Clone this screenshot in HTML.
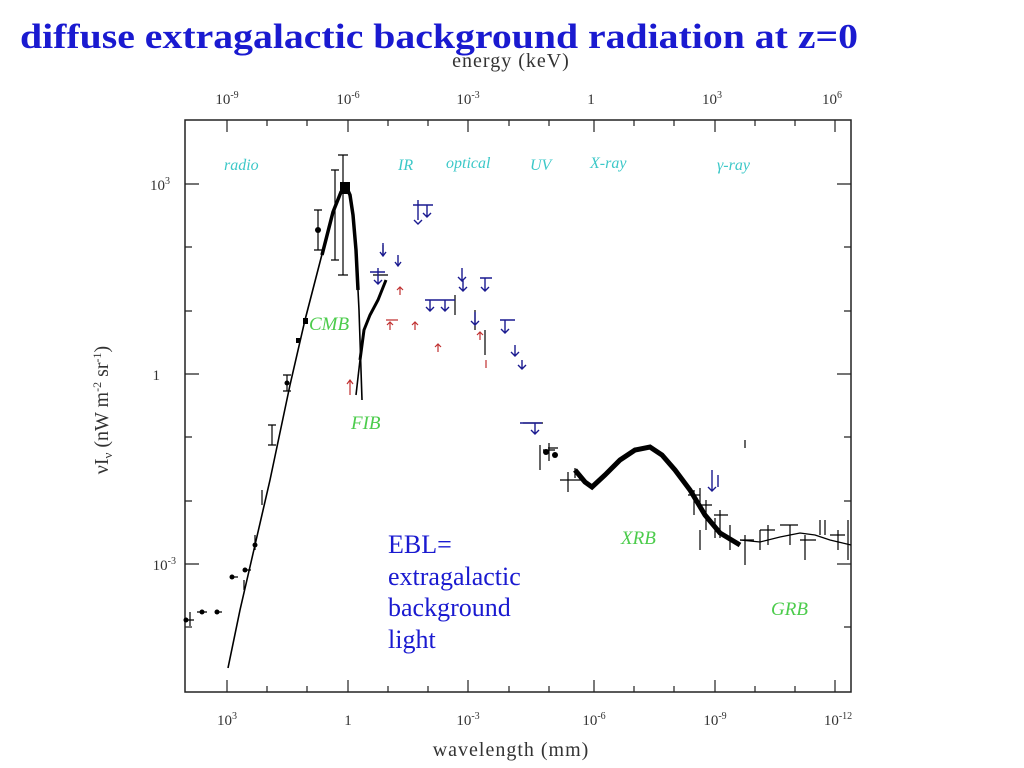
<!DOCTYPE html>
<html><head><meta charset="utf-8"><style>
html,body{margin:0;padding:0;background:#fff;width:1024px;height:768px;overflow:hidden}
svg{display:block}
.t{font-family:"Liberation Serif",serif}
</style></head><body>
<svg width="1024" height="768" viewBox="0 0 1024 768" xmlns="http://www.w3.org/2000/svg">
<text class="t" x="20" y="48" font-size="35" font-weight="bold" fill="#1a1ad0" textLength="838" lengthAdjust="spacingAndGlyphs">diffuse extragalactic background radiation at z=0</text>
<text class="t" x="511" y="67" font-size="20" fill="#333" text-anchor="middle" letter-spacing="1">energy (keV)</text>
<g class="t" font-size="15" fill="#333" text-anchor="middle">
<text x="227" y="104">10<tspan dy="-6" font-size="10">-9</tspan></text>
<text x="348" y="104">10<tspan dy="-6" font-size="10">-6</tspan></text>
<text x="468" y="104">10<tspan dy="-6" font-size="10">-3</tspan></text>
<text x="591" y="104">1</text>
<text x="712" y="104">10<tspan dy="-6" font-size="10">3</tspan></text>
<text x="832" y="104">10<tspan dy="-6" font-size="10">6</tspan></text>
<text x="227" y="725">10<tspan dy="-6" font-size="10">3</tspan></text>
<text x="348" y="725">1</text>
<text x="468" y="725">10<tspan dy="-6" font-size="10">-3</tspan></text>
<text x="594" y="725">10<tspan dy="-6" font-size="10">-6</tspan></text>
<text x="715" y="725">10<tspan dy="-6" font-size="10">-9</tspan></text>
<text x="838" y="725">10<tspan dy="-6" font-size="10">-12</tspan></text>
</g>
<g class="t" font-size="15" fill="#333" text-anchor="end">
<text x="170" y="190">10<tspan dy="-6" font-size="10">3</tspan></text>
<text x="160" y="380">1</text>
<text x="176" y="570">10<tspan dy="-6" font-size="10">-3</tspan></text>
</g>
<text class="t" x="511" y="756" font-size="20" fill="#333" text-anchor="middle" letter-spacing="1">wavelength (mm)</text>
<text class="t" transform="translate(108,410) rotate(-90)" font-size="20" fill="#333" text-anchor="middle">νI<tspan font-size="13" dy="4">ν</tspan><tspan dy="-4"> (nW m</tspan><tspan font-size="12" dy="-7">-2</tspan><tspan dy="7"> sr</tspan><tspan font-size="12" dy="-7">-1</tspan><tspan dy="7">)</tspan></text>
<rect x="185" y="120" width="666" height="572" fill="none" stroke="#222" stroke-width="1.5"/>
<g stroke="#222" stroke-width="1.2">
<path d="M227 120v12M348 120v12M468 120v12M594 120v12M715 120v12M835 120v12M227 692v-12M348 692v-12M468 692v-12M594 692v-12M715 692v-12M835 692v-12"/>
<path d="M267 120v6M307 120v6M388 120v6M428 120v6M509 120v6M549 120v6M634 120v6M674 120v6M755 120v6M795 120v6M267 692v-6M307 692v-6M388 692v-6M428 692v-6M509 692v-6M549 692v-6M634 692v-6M674 692v-6M755 692v-6M795 692v-6"/>
<path d="M185 184h14M185 374h14M185 564h14M851 184h-14M851 374h-14M851 564h-14"/>
<path d="M185 247h7M185 311h7M185 437h7M185 501h7M185 627h7M851 247h-7M851 311h-7M851 437h-7M851 501h-7M851 627h-7"/>
</g>
<g font-family="Liberation Serif,serif" font-style="italic" font-size="16" fill="#3cc8c8">
<text x="224" y="170">radio</text><text x="398" y="170">IR</text><text x="446" y="168">optical</text><text x="530" y="170">UV</text><text x="590" y="168">X-ray</text><text x="717" y="170">γ-ray</text>
</g>
<g font-family="Liberation Serif,serif" font-style="italic" font-size="19" fill="#4ccc4c">
<text x="309" y="330">CMB</text><text x="351" y="429">FIB</text><text x="621" y="544">XRB</text><text x="771" y="615">GRB</text>
</g>
<g fill="none" stroke="#000" stroke-width="1.6">
<polyline points="228,668 240,610 255,545 270,480 290,385 305,320 320,262 333,212 341,192 346,186 350,195 353,215 356,250 359,310 361,370 362,400"/>
<polyline stroke-width="3.5" points="322,255 333,212 341,192 346,186 350,195 353,215 356,250 358,290"/>
<polyline stroke-width="3" points="360,360 364,330 370,315 378,300 386,280"/>
<polyline points="356,395 360,360"/>
<polyline stroke-width="5" points="575,470 585,482 592,487 605,475 620,460 635,450 650,447 662,455 675,470 690,490 705,515 720,533 740,545"/>
<polyline stroke-width="1.3" points="740,540 760,542 780,537 800,533 815,535 830,540 851,545"/>
</g>
<g stroke="#000" stroke-width="1.2" fill="none">
<path d="M343 155v120M338 155h10M338 275h10M335 170v90M331 170h8M331 260h8M318 210v40M314 210h8M314 250h8M287 375v16M283 375h8M283 391h8M272 425v20M268 425h8M268 445h8M262 490v15M244 580v10M255 535v15"/>
<path d="M186 620h8M190 612v14M197 612h10M216 612h6M232 577h6M245 570h6M543 450h12M549 443v18M560 480h15M568 472v20M575 468v10M575 480h10M700 530v20M730 525v25M760 530v20M790 525v20M820 520v15M838 530v20M848 520v40"/>
<path d="M523 423h20M383 245v10M373 275h15M475 310v20M485 330v25M455 295v20"/>
<path d="M694 490v25M688 495h12M706 500v30M700 505h12M720 510v28M714 515h14M745 535v30M740 540h14M760 530h15M768 525v20M780 525h18M805 535v25M800 540h16M825 520v15M830 535h15M715 518v20M745 440v8M700 488v15M540 445v25M548 448h10"/>
</g>
<g fill="#000">
<circle cx="186" cy="620" r="2.5"/><circle cx="202" cy="612" r="2.5"/><circle cx="217" cy="612" r="2.5"/><circle cx="232" cy="577" r="2.5"/><circle cx="245" cy="570" r="2.5"/><circle cx="255" cy="545" r="2.5"/><circle cx="287" cy="383" r="2.5"/><circle cx="318" cy="230" r="3"/><circle cx="546" cy="452" r="3"/><circle cx="555" cy="455" r="3"/>
<rect x="340" y="182" width="10" height="12"/><rect x="303" y="318" width="5" height="6"/><rect x="296" y="338" width="4" height="5"/>
</g>
<g stroke="#1a1a90" stroke-width="1.4" fill="none">
<path d="M413 205h20M418 200v20M414 220l4 4 4-4M427 205v12M423 213l4 4 4-4M383 243v12M380 252l3 4 3-4M398 255v10M395 262l3 4 3-4M370 272h15M378 268v15M374 280l4 4 4-4M425 300h30M430 300v10M426 307l4 4 4-4M445 300v10M441 307l4 4 4-4M462 268v12M458 277l4 4 4-4M463 280v10M459 287l4 4 4-4M480 278h12M485 278v12M481 287l4 4 4-4M475 312v12M471 321l4 4 4-4M500 320h15M505 320v12M501 329l4 4 4-4M515 345v10M511 352l4 4 4-4M522 360v8M518 365l4 4 4-4M520 423h22M535 423v10M531 430l4 4 4-4M712 470v20M708 487l4 4 4-4M718 475v12"/>
</g>
<g stroke="#c03030" stroke-width="1.2" fill="none">
<path d="M350 395v-15M347 384l3-4 3 4M400 295v-8M397 290l3-3 3 3M386 320h12M390 330v-8M387 325l3-3 3 3M415 330v-8M412 325l3-3 3 3M438 352v-8M435 347l3-3 3 3M480 340v-8M477 335l3-3 3 3M486 360v8"/>
</g>
<g class="t" font-size="26" fill="#1a1ad0">
<text x="388" y="553">EBL=</text><text x="388" y="585">extragalactic</text><text x="388" y="616">background</text><text x="388" y="648">light</text>
</g>
</svg>
</body></html>
